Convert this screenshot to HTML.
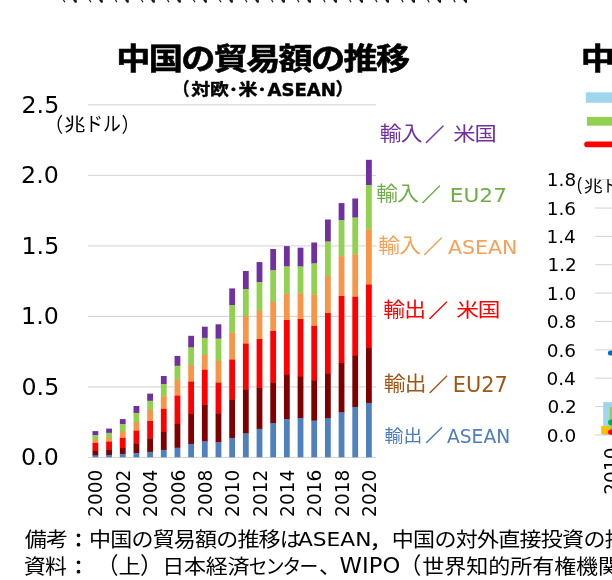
<!DOCTYPE html>
<html lang="ja"><head><meta charset="utf-8"><title>中国の貿易額の推移</title>
<style>html,body{margin:0;padding:0;background:#fff}body{width:612px;height:580px;overflow:hidden;position:relative}svg{position:absolute;left:0;top:0;display:block}text{font-family:'Liberation Sans','Noto Sans CJK JP',sans-serif}.d{font-family:'DejaVu Sans','Liberation Sans',sans-serif}.b{font-weight:bold}</style>
</head><body>
<svg width="612" height="580" viewBox="0 0 612 580">
<rect width="612" height="580" fill="#fff"/>
<g fill="#111" stroke="#111">
<line x1="63.1" y1="-0.6" x2="64.9" y2="2.3" stroke-width="1.15"/>
<rect x="75.2" y="-1" width="1.5" height="3.7" stroke="none"/>
<line x1="73.5" y1="-0.8" x2="75.7" y2="2.2" stroke-width="1.7"/>
<line x1="89.2" y1="-0.6" x2="90.9" y2="2.3" stroke-width="1.15"/>
<rect x="101.2" y="-1" width="1.5" height="3.7" stroke="none"/>
<line x1="99.5" y1="-0.8" x2="101.7" y2="2.2" stroke-width="1.7"/>
<line x1="115.2" y1="-0.6" x2="116.9" y2="2.3" stroke-width="1.15"/>
<rect x="127.2" y="-1" width="1.5" height="3.7" stroke="none"/>
<line x1="125.5" y1="-0.8" x2="127.7" y2="2.2" stroke-width="1.7"/>
<line x1="141.2" y1="-0.6" x2="143.0" y2="2.3" stroke-width="1.15"/>
<rect x="153.3" y="-1" width="1.5" height="3.7" stroke="none"/>
<line x1="151.5" y1="-0.8" x2="153.7" y2="2.2" stroke-width="1.7"/>
<line x1="167.2" y1="-0.6" x2="169.0" y2="2.3" stroke-width="1.15"/>
<rect x="179.3" y="-1" width="1.5" height="3.7" stroke="none"/>
<line x1="177.5" y1="-0.8" x2="179.7" y2="2.2" stroke-width="1.7"/>
<line x1="193.2" y1="-0.6" x2="195.0" y2="2.3" stroke-width="1.15"/>
<rect x="205.3" y="-1" width="1.5" height="3.7" stroke="none"/>
<line x1="203.6" y1="-0.8" x2="205.8" y2="2.2" stroke-width="1.7"/>
<line x1="219.3" y1="-0.6" x2="221.0" y2="2.3" stroke-width="1.15"/>
<rect x="231.3" y="-1" width="1.5" height="3.7" stroke="none"/>
<line x1="229.6" y1="-0.8" x2="231.8" y2="2.2" stroke-width="1.7"/>
<line x1="245.3" y1="-0.6" x2="247.0" y2="2.3" stroke-width="1.15"/>
<rect x="257.3" y="-1" width="1.5" height="3.7" stroke="none"/>
<line x1="255.6" y1="-0.8" x2="257.8" y2="2.2" stroke-width="1.7"/>
<line x1="271.3" y1="-0.6" x2="273.1" y2="2.3" stroke-width="1.15"/>
<rect x="283.4" y="-1" width="1.5" height="3.7" stroke="none"/>
<line x1="281.6" y1="-0.8" x2="283.8" y2="2.2" stroke-width="1.7"/>
<line x1="297.3" y1="-0.6" x2="299.1" y2="2.3" stroke-width="1.15"/>
<rect x="309.4" y="-1" width="1.5" height="3.7" stroke="none"/>
<line x1="307.6" y1="-0.8" x2="309.8" y2="2.2" stroke-width="1.7"/>
<line x1="323.4" y1="-0.6" x2="325.1" y2="2.3" stroke-width="1.15"/>
<rect x="335.4" y="-1" width="1.5" height="3.7" stroke="none"/>
<line x1="333.7" y1="-0.8" x2="335.9" y2="2.2" stroke-width="1.7"/>
<line x1="349.4" y1="-0.6" x2="351.1" y2="2.3" stroke-width="1.15"/>
<rect x="361.4" y="-1" width="1.5" height="3.7" stroke="none"/>
<line x1="359.7" y1="-0.8" x2="361.9" y2="2.2" stroke-width="1.7"/>
<line x1="375.4" y1="-0.6" x2="377.1" y2="2.3" stroke-width="1.15"/>
<rect x="387.4" y="-1" width="1.5" height="3.7" stroke="none"/>
<line x1="385.7" y1="-0.8" x2="387.9" y2="2.2" stroke-width="1.7"/>
<line x1="401.4" y1="-0.6" x2="403.2" y2="2.3" stroke-width="1.15"/>
<rect x="413.5" y="-1" width="1.5" height="3.7" stroke="none"/>
<line x1="411.7" y1="-0.8" x2="413.9" y2="2.2" stroke-width="1.7"/>
<line x1="427.4" y1="-0.6" x2="429.2" y2="2.3" stroke-width="1.15"/>
<rect x="439.5" y="-1" width="1.5" height="3.7" stroke="none"/>
<line x1="437.7" y1="-0.8" x2="439.9" y2="2.2" stroke-width="1.7"/>
<line x1="453.5" y1="-0.6" x2="455.2" y2="2.3" stroke-width="1.15"/>
<rect x="465.5" y="-1" width="1.5" height="3.7" stroke="none"/>
<line x1="463.8" y1="-0.8" x2="466.0" y2="2.2" stroke-width="1.7"/>
</g>
<rect x="88" y="456.90" width="288" height="1.1" fill="#d6d6d6"/>
<rect x="88" y="386.38" width="288" height="1.1" fill="#d6d6d6"/>
<rect x="88" y="315.86" width="288" height="1.1" fill="#d6d6d6"/>
<rect x="88" y="245.34" width="288" height="1.1" fill="#d6d6d6"/>
<rect x="88" y="174.82" width="288" height="1.1" fill="#d6d6d6"/>
<rect x="88" y="104.30" width="288" height="1.1" fill="#d6d6d6"/>
<rect x="92.50" y="431.10" width="5.80" height="4.40" fill="#7030a0"/>
<rect x="92.50" y="435.20" width="5.80" height="4.90" fill="#92d050"/>
<rect x="92.50" y="439.80" width="5.80" height="3.40" fill="#f79646"/>
<rect x="92.50" y="442.90" width="5.80" height="7.80" fill="#ff0000"/>
<rect x="92.50" y="450.40" width="5.80" height="5.40" fill="#7f0000"/>
<rect x="92.50" y="455.50" width="5.80" height="1.80" fill="#4f81bd"/>
<rect x="106.17" y="428.60" width="5.80" height="4.50" fill="#7030a0"/>
<rect x="106.17" y="432.80" width="5.80" height="5.20" fill="#92d050"/>
<rect x="106.17" y="437.70" width="5.80" height="4.30" fill="#f79646"/>
<rect x="106.17" y="441.70" width="5.80" height="8.10" fill="#ff0000"/>
<rect x="106.17" y="449.50" width="5.80" height="5.70" fill="#7f0000"/>
<rect x="106.17" y="454.90" width="5.80" height="2.40" fill="#4f81bd"/>
<rect x="119.85" y="419.10" width="5.80" height="5.30" fill="#7030a0"/>
<rect x="119.85" y="424.10" width="5.80" height="7.90" fill="#92d050"/>
<rect x="119.85" y="431.70" width="5.80" height="6.50" fill="#f79646"/>
<rect x="119.85" y="437.90" width="5.80" height="10.30" fill="#ff0000"/>
<rect x="119.85" y="447.90" width="5.80" height="6.30" fill="#7f0000"/>
<rect x="119.85" y="453.90" width="5.80" height="3.40" fill="#4f81bd"/>
<rect x="133.53" y="406.00" width="5.80" height="7.20" fill="#7030a0"/>
<rect x="133.53" y="412.90" width="5.80" height="9.40" fill="#92d050"/>
<rect x="133.53" y="422.00" width="5.80" height="9.00" fill="#f79646"/>
<rect x="133.53" y="430.70" width="5.80" height="13.10" fill="#ff0000"/>
<rect x="133.53" y="443.50" width="5.80" height="9.80" fill="#7f0000"/>
<rect x="133.53" y="453.00" width="5.80" height="4.30" fill="#4f81bd"/>
<rect x="147.20" y="393.60" width="5.80" height="7.40" fill="#7030a0"/>
<rect x="147.20" y="400.70" width="5.80" height="9.60" fill="#92d050"/>
<rect x="147.20" y="410.00" width="5.80" height="11.30" fill="#f79646"/>
<rect x="147.20" y="421.00" width="5.80" height="17.90" fill="#ff0000"/>
<rect x="147.20" y="438.60" width="5.80" height="13.50" fill="#7f0000"/>
<rect x="147.20" y="451.80" width="5.80" height="5.50" fill="#4f81bd"/>
<rect x="160.88" y="376.00" width="5.80" height="8.40" fill="#7030a0"/>
<rect x="160.88" y="384.10" width="5.80" height="12.50" fill="#92d050"/>
<rect x="160.88" y="396.30" width="5.80" height="12.90" fill="#f79646"/>
<rect x="160.88" y="408.90" width="5.80" height="23.30" fill="#ff0000"/>
<rect x="160.88" y="431.90" width="5.80" height="18.30" fill="#7f0000"/>
<rect x="160.88" y="449.90" width="5.80" height="7.40" fill="#4f81bd"/>
<rect x="174.55" y="355.90" width="5.80" height="10.10" fill="#7030a0"/>
<rect x="174.55" y="365.70" width="5.80" height="14.60" fill="#92d050"/>
<rect x="174.55" y="380.00" width="5.80" height="16.00" fill="#f79646"/>
<rect x="174.55" y="395.70" width="5.80" height="28.50" fill="#ff0000"/>
<rect x="174.55" y="423.90" width="5.80" height="24.10" fill="#7f0000"/>
<rect x="174.55" y="447.70" width="5.80" height="9.60" fill="#4f81bd"/>
<rect x="188.23" y="335.80" width="5.80" height="11.90" fill="#7030a0"/>
<rect x="188.23" y="347.40" width="5.80" height="18.00" fill="#92d050"/>
<rect x="188.23" y="365.10" width="5.80" height="16.80" fill="#f79646"/>
<rect x="188.23" y="381.60" width="5.80" height="32.60" fill="#ff0000"/>
<rect x="188.23" y="413.90" width="5.80" height="30.30" fill="#7f0000"/>
<rect x="188.23" y="443.90" width="5.80" height="13.40" fill="#4f81bd"/>
<rect x="201.90" y="326.70" width="5.80" height="11.40" fill="#7030a0"/>
<rect x="201.90" y="337.80" width="5.80" height="17.40" fill="#92d050"/>
<rect x="201.90" y="354.90" width="5.80" height="15.20" fill="#f79646"/>
<rect x="201.90" y="369.80" width="5.80" height="35.50" fill="#ff0000"/>
<rect x="201.90" y="405.00" width="5.80" height="36.70" fill="#7f0000"/>
<rect x="201.90" y="441.40" width="5.80" height="15.90" fill="#4f81bd"/>
<rect x="215.57" y="324.30" width="5.80" height="14.60" fill="#7030a0"/>
<rect x="215.57" y="338.60" width="5.80" height="22.60" fill="#92d050"/>
<rect x="215.57" y="360.90" width="5.80" height="22.10" fill="#f79646"/>
<rect x="215.57" y="382.70" width="5.80" height="30.90" fill="#ff0000"/>
<rect x="215.57" y="413.30" width="5.80" height="29.30" fill="#7f0000"/>
<rect x="215.57" y="442.30" width="5.80" height="15.00" fill="#4f81bd"/>
<rect x="229.25" y="288.40" width="5.80" height="17.00" fill="#7030a0"/>
<rect x="229.25" y="305.10" width="5.80" height="27.70" fill="#92d050"/>
<rect x="229.25" y="332.50" width="5.80" height="27.40" fill="#f79646"/>
<rect x="229.25" y="359.60" width="5.80" height="40.20" fill="#ff0000"/>
<rect x="229.25" y="399.50" width="5.80" height="38.70" fill="#7f0000"/>
<rect x="229.25" y="437.90" width="5.80" height="19.40" fill="#4f81bd"/>
<rect x="242.93" y="271.00" width="5.80" height="18.30" fill="#7030a0"/>
<rect x="242.93" y="289.00" width="5.80" height="27.30" fill="#92d050"/>
<rect x="242.93" y="316.00" width="5.80" height="27.90" fill="#f79646"/>
<rect x="242.93" y="343.60" width="5.80" height="46.30" fill="#ff0000"/>
<rect x="242.93" y="389.60" width="5.80" height="44.10" fill="#7f0000"/>
<rect x="242.93" y="433.40" width="5.80" height="23.90" fill="#4f81bd"/>
<rect x="256.60" y="262.10" width="5.80" height="20.30" fill="#7030a0"/>
<rect x="256.60" y="282.10" width="5.80" height="28.80" fill="#92d050"/>
<rect x="256.60" y="310.60" width="5.80" height="28.70" fill="#f79646"/>
<rect x="256.60" y="339.00" width="5.80" height="49.30" fill="#ff0000"/>
<rect x="256.60" y="388.00" width="5.80" height="41.10" fill="#7f0000"/>
<rect x="256.60" y="428.80" width="5.80" height="28.50" fill="#4f81bd"/>
<rect x="270.27" y="249.00" width="5.80" height="21.60" fill="#7030a0"/>
<rect x="270.27" y="270.30" width="5.80" height="31.80" fill="#92d050"/>
<rect x="270.27" y="301.80" width="5.80" height="29.50" fill="#f79646"/>
<rect x="270.27" y="331.00" width="5.80" height="51.80" fill="#ff0000"/>
<rect x="270.27" y="382.50" width="5.80" height="40.80" fill="#7f0000"/>
<rect x="270.27" y="423.00" width="5.80" height="34.30" fill="#4f81bd"/>
<rect x="283.95" y="246.10" width="5.80" height="20.60" fill="#7030a0"/>
<rect x="283.95" y="266.40" width="5.80" height="27.50" fill="#92d050"/>
<rect x="283.95" y="293.60" width="5.80" height="26.70" fill="#f79646"/>
<rect x="283.95" y="320.00" width="5.80" height="55.10" fill="#ff0000"/>
<rect x="283.95" y="374.80" width="5.80" height="44.70" fill="#7f0000"/>
<rect x="283.95" y="419.20" width="5.80" height="38.10" fill="#4f81bd"/>
<rect x="297.62" y="247.70" width="5.80" height="19.00" fill="#7030a0"/>
<rect x="297.62" y="266.40" width="5.80" height="27.20" fill="#92d050"/>
<rect x="297.62" y="293.30" width="5.80" height="26.00" fill="#f79646"/>
<rect x="297.62" y="319.00" width="5.80" height="58.00" fill="#ff0000"/>
<rect x="297.62" y="376.70" width="5.80" height="41.60" fill="#7f0000"/>
<rect x="297.62" y="418.00" width="5.80" height="39.30" fill="#4f81bd"/>
<rect x="311.30" y="242.50" width="5.80" height="21.20" fill="#7030a0"/>
<rect x="311.30" y="263.40" width="5.80" height="31.20" fill="#92d050"/>
<rect x="311.30" y="294.30" width="5.80" height="31.90" fill="#f79646"/>
<rect x="311.30" y="325.90" width="5.80" height="55.10" fill="#ff0000"/>
<rect x="311.30" y="380.70" width="5.80" height="40.20" fill="#7f0000"/>
<rect x="311.30" y="420.60" width="5.80" height="36.70" fill="#4f81bd"/>
<rect x="324.98" y="219.50" width="5.80" height="22.30" fill="#7030a0"/>
<rect x="324.98" y="241.50" width="5.80" height="34.70" fill="#92d050"/>
<rect x="324.98" y="275.90" width="5.80" height="37.40" fill="#f79646"/>
<rect x="324.98" y="313.00" width="5.80" height="61.10" fill="#ff0000"/>
<rect x="324.98" y="373.80" width="5.80" height="44.50" fill="#7f0000"/>
<rect x="324.98" y="418.00" width="5.80" height="39.30" fill="#4f81bd"/>
<rect x="338.65" y="203.10" width="5.80" height="17.40" fill="#7030a0"/>
<rect x="338.65" y="220.20" width="5.80" height="36.30" fill="#92d050"/>
<rect x="338.65" y="256.20" width="5.80" height="40.10" fill="#f79646"/>
<rect x="338.65" y="296.00" width="5.80" height="67.30" fill="#ff0000"/>
<rect x="338.65" y="363.00" width="5.80" height="49.70" fill="#7f0000"/>
<rect x="338.65" y="412.40" width="5.80" height="44.90" fill="#4f81bd"/>
<rect x="352.32" y="198.50" width="5.80" height="19.30" fill="#7030a0"/>
<rect x="352.32" y="217.50" width="5.80" height="37.10" fill="#92d050"/>
<rect x="352.32" y="254.30" width="5.80" height="42.80" fill="#f79646"/>
<rect x="352.32" y="296.80" width="5.80" height="59.30" fill="#ff0000"/>
<rect x="352.32" y="355.80" width="5.80" height="51.40" fill="#7f0000"/>
<rect x="352.32" y="406.90" width="5.80" height="50.40" fill="#4f81bd"/>
<rect x="366.00" y="159.80" width="5.80" height="25.60" fill="#7030a0"/>
<rect x="366.00" y="185.10" width="5.80" height="44.50" fill="#92d050"/>
<rect x="366.00" y="229.30" width="5.80" height="55.50" fill="#f79646"/>
<rect x="366.00" y="284.50" width="5.80" height="63.70" fill="#ff0000"/>
<rect x="366.00" y="347.90" width="5.80" height="55.30" fill="#7f0000"/>
<rect x="366.00" y="402.90" width="5.80" height="54.40" fill="#4f81bd"/>
<text class="b" transform="translate(116.37 69.30) scale(1.1500 1)" font-size="29.70" letter-spacing="-1.483" stroke="#000" stroke-width="0.60" stroke-linejoin="round">中国の貿易額の推移</text>
<text class="b" transform="translate(580.77 69.30) scale(1.1500 1)" font-size="29.70" stroke="#000" stroke-width="0.60" stroke-linejoin="round">中</text>
<text class="b" transform="translate(173.76 95.35) scale(0.8835 1)" font-size="17.73" stroke="#000" stroke-width="0.45" stroke-linejoin="round">（</text>
<text class="b" transform="translate(191.31 94.90) scale(1.1600 1)" font-size="16.30" letter-spacing="-0.222" stroke="#000" stroke-width="0.45" stroke-linejoin="round">対欧</text>
<text class="b" transform="translate(228.77 94.90) scale(1.1600 1)" font-size="16.30" stroke="#000" stroke-width="0.45" stroke-linejoin="round">･</text>
<text class="b" transform="translate(238.42 94.90) scale(1.1600 1)" font-size="16.30" stroke="#000" stroke-width="0.45" stroke-linejoin="round">米</text>
<text class="b" transform="translate(257.37 94.90) scale(1.1600 1)" font-size="16.30" stroke="#000" stroke-width="0.45" stroke-linejoin="round">･</text>
<text class="d b" transform="translate(267.40 95.73) scale(1.0329 1)" font-size="17.50" stroke="#000" stroke-width="0.45" stroke-linejoin="round">ASEAN</text>
<text class="b" transform="translate(335.82 95.38) scale(0.9757 1)" font-size="17.42" stroke="#000" stroke-width="0.45" stroke-linejoin="round">）</text>
<text class="d" transform="translate(21.06 465.35) scale(1.0400 1)" font-size="22.80">0.0</text>
<text class="d" transform="translate(21.53 394.83) scale(1.0400 1)" font-size="22.80">0.5</text>
<text class="d" transform="translate(21.06 324.31) scale(1.0400 1)" font-size="22.80">1.0</text>
<text class="d" transform="translate(21.53 253.79) scale(1.0400 1)" font-size="22.80">1.5</text>
<text class="d" transform="translate(21.06 183.27) scale(1.0400 1)" font-size="22.80">2.0</text>
<text class="d" transform="translate(21.53 112.75) scale(1.0400 1)" font-size="22.80">2.5</text>
<text transform="translate(45.08 131.68) scale(0.8981 1)" font-size="20.21">（</text>
<text transform="translate(64.15 130.79) scale(1.1713 1)" font-size="18.09">兆</text>
<text transform="translate(85.13 131.31) scale(0.8977 1)" font-size="19.88">ドル</text>
<text transform="translate(121.47 131.68) scale(0.8981 1)" font-size="20.21">）</text>
<text class="d" transform="translate(102.45 516.90) scale(1.0300 1) rotate(-90)" font-size="18.55">2000</text>
<text class="d" transform="translate(129.80 516.90) scale(1.0300 1) rotate(-90)" font-size="18.55">2002</text>
<text class="d" transform="translate(157.15 516.90) scale(1.0300 1) rotate(-90)" font-size="18.55">2004</text>
<text class="d" transform="translate(184.50 516.90) scale(1.0300 1) rotate(-90)" font-size="18.55">2006</text>
<text class="d" transform="translate(211.85 516.90) scale(1.0300 1) rotate(-90)" font-size="18.55">2008</text>
<text class="d" transform="translate(239.20 516.90) scale(1.0300 1) rotate(-90)" font-size="18.55">2010</text>
<text class="d" transform="translate(266.55 516.90) scale(1.0300 1) rotate(-90)" font-size="18.55">2012</text>
<text class="d" transform="translate(293.90 516.90) scale(1.0300 1) rotate(-90)" font-size="18.55">2014</text>
<text class="d" transform="translate(321.25 516.90) scale(1.0300 1) rotate(-90)" font-size="18.55">2016</text>
<text class="d" transform="translate(348.60 516.90) scale(1.0300 1) rotate(-90)" font-size="18.55">2018</text>
<text class="d" transform="translate(375.95 516.90) scale(1.0300 1) rotate(-90)" font-size="18.55">2020</text>
<text class="d" transform="translate(618.35 494.70) scale(1.0300 1) rotate(-90)" font-size="18.55">2010</text>
<text transform="translate(379.85 140.76) scale(1.0650 1)" font-size="20.40" letter-spacing="-0.682" fill="#7030a0">輸入</text>
<text transform="translate(425.13 140.61) scale(1.0114 1)" font-size="18.72" fill="#7030a0" stroke="#7030a0" stroke-width="0.50" stroke-linejoin="round">／</text>
<text transform="translate(453.23 140.84) scale(1.1384 1)" font-size="19.57" letter-spacing="-0.979" fill="#7030a0">米国</text>
<text transform="translate(376.35 200.86) scale(1.0650 1)" font-size="20.40" letter-spacing="-0.682" fill="#70ad47">輸入</text>
<text transform="translate(421.63 200.71) scale(1.0114 1)" font-size="18.72" fill="#70ad47" stroke="#70ad47" stroke-width="0.50" stroke-linejoin="round">／</text>
<text class="d" transform="translate(449.75 201.60) scale(1.0709 1)" font-size="20.26" fill="#70ad47">EU27</text>
<text transform="translate(378.15 253.46) scale(1.0650 1)" font-size="20.40" letter-spacing="-0.682" fill="#f8a055">輸入</text>
<text transform="translate(423.43 253.31) scale(1.0114 1)" font-size="18.72" fill="#f8a055" stroke="#f8a055" stroke-width="0.50" stroke-linejoin="round">／</text>
<text class="d" transform="translate(447.90 253.60) scale(1.0275 1)" font-size="20.00" fill="#f8a055">ASEAN</text>
<text transform="translate(383.35 317.46) scale(1.0650 1)" font-size="20.40" letter-spacing="-0.682" fill="#ff0000">輸出</text>
<text transform="translate(428.63 317.31) scale(1.0114 1)" font-size="18.72" fill="#ff0000" stroke="#ff0000" stroke-width="0.50" stroke-linejoin="round">／</text>
<text transform="translate(456.22 317.22) scale(1.1481 1)" font-size="19.79" letter-spacing="-0.989" fill="#ff0000">米国</text>
<text transform="translate(383.65 390.96) scale(1.0650 1)" font-size="20.40" letter-spacing="-0.682" fill="#a05512">輸出</text>
<text transform="translate(428.93 390.81) scale(1.0114 1)" font-size="18.72" fill="#a05512" stroke="#a05512" stroke-width="0.50" stroke-linejoin="round">／</text>
<text class="d" transform="translate(452.72 392.09) scale(1.0158 1)" font-size="20.53" fill="#a05512">EU27</text>
<text transform="translate(384.44 442.13) scale(1.0800 1)" font-size="17.40" letter-spacing="0.193" fill="#4c7cc0">輸出</text>
<text transform="translate(425.38 441.90) scale(1.0114 1)" font-size="16.94" fill="#4c7cc0" stroke="#4c7cc0" stroke-width="0.50" stroke-linejoin="round">／</text>
<text class="d" transform="translate(446.90 443.21) scale(1.0021 1)" font-size="18.68" fill="#4c7cc0">ASEAN</text>
<rect x="585.8" y="92.3" width="27" height="10.5" fill="#9fd6ee"/>
<rect x="586.9" y="116.9" width="27" height="8.8" fill="#92d050"/>
<line x1="587" y1="144.4" x2="615" y2="144.4" stroke="#ff0000" stroke-width="5.6" stroke-linecap="round"/>
<rect x="595.1" y="434.35" width="18" height="1.1" fill="#d6d6d6"/>
<rect x="595.1" y="405.99" width="18" height="1.1" fill="#d6d6d6"/>
<rect x="595.1" y="377.63" width="18" height="1.1" fill="#d6d6d6"/>
<rect x="595.1" y="349.27" width="18" height="1.1" fill="#d6d6d6"/>
<rect x="595.1" y="320.91" width="18" height="1.1" fill="#d6d6d6"/>
<rect x="595.1" y="292.55" width="18" height="1.1" fill="#d6d6d6"/>
<rect x="595.1" y="264.19" width="18" height="1.1" fill="#d6d6d6"/>
<rect x="595.1" y="235.83" width="18" height="1.1" fill="#d6d6d6"/>
<rect x="595.1" y="207.47" width="18" height="1.1" fill="#d6d6d6"/>
<rect x="595.1" y="179.11" width="18" height="1.1" fill="#d6d6d6"/>
<text class="d" transform="translate(546.83 441.60) scale(1.0500 1)" font-size="17.60">0.0</text>
<text class="d" transform="translate(547.39 413.24) scale(1.0500 1)" font-size="17.60">0.2</text>
<text class="d" transform="translate(546.47 384.88) scale(1.0500 1)" font-size="17.60">0.4</text>
<text class="d" transform="translate(546.65 356.52) scale(1.0500 1)" font-size="17.60">0.6</text>
<text class="d" transform="translate(546.83 328.16) scale(1.0500 1)" font-size="17.60">0.8</text>
<text class="d" transform="translate(546.83 299.80) scale(1.0500 1)" font-size="17.60">1.0</text>
<text class="d" transform="translate(547.39 271.44) scale(1.0500 1)" font-size="17.60">1.2</text>
<text class="d" transform="translate(546.47 243.08) scale(1.0500 1)" font-size="17.60">1.4</text>
<text class="d" transform="translate(546.65 214.72) scale(1.0500 1)" font-size="17.60">1.6</text>
<text class="d" transform="translate(546.83 186.36) scale(1.0500 1)" font-size="17.60">1.8</text>
<text transform="translate(577.01 190.42) scale(0.8240 1)" font-size="17.98">(</text>
<text transform="translate(583.84 191.65) scale(1.2254 1)" font-size="15.53">兆</text>
<text transform="translate(602.45 191.97) scale(0.9676 1)" font-size="16.59">ドル</text>
<text transform="translate(636.00 190.42) scale(0.8343 1)" font-size="17.98">)</text>
<rect x="603.2" y="402.1" width="10" height="33" fill="#9fd6ee"/>
<rect x="609.8" y="406.9" width="4" height="22.4" fill="#92d050"/>
<rect x="601.2" y="426" width="8.5" height="8.3" fill="#ffc000"/>
<circle cx="610.9" cy="422.4" r="2.8" fill="#00b050"/>
<circle cx="610.7" cy="432.1" r="2.7" fill="#ff0000"/>
<line x1="610.4" y1="353" x2="615" y2="353" stroke="#0070c0" stroke-width="5" stroke-linecap="round"/>
<text transform="translate(24.68 546.90) scale(1.0800 1)" font-size="20.40" letter-spacing="-0.678">備考</text>
<text transform="translate(69.60 546.90)" font-size="18.00" stroke="#000" stroke-width="1.00" stroke-linejoin="round">：</text>
<text transform="translate(89.12 546.90) scale(1.0800 1)" font-size="20.40" letter-spacing="-0.770">中国の貿易額の推移は</text>
<text class="d" transform="translate(298.00 546.10) scale(1.0782 1)" font-size="20.13">ASEAN</text>
<text transform="translate(369.74 547.93) scale(1.1647 1)" font-size="18.89" stroke="#000" stroke-width="0.30" stroke-linejoin="round">，</text>
<text transform="translate(391.82 546.90) scale(1.0800 1)" font-size="20.40" letter-spacing="-0.678">中国の対外直接投資の推移</text>
<text transform="translate(23.72 573.70) scale(1.0800 1)" font-size="20.40" letter-spacing="-0.678">資料</text>
<text transform="translate(69.60 574.20)" font-size="18.00" stroke="#000" stroke-width="1.00" stroke-linejoin="round">：</text>
<text transform="translate(97.08 574.00) scale(0.9331 1)" font-size="23.02">（</text>
<text transform="translate(118.60 573.70) scale(1.0800 1)" font-size="20.40">上</text>
<text transform="translate(139.88 574.00) scale(0.9975 1)" font-size="23.02">）</text>
<text transform="translate(162.25 573.70) scale(1.0800 1)" font-size="20.40" letter-spacing="-0.215">日本経済</text>
<text transform="translate(248.77 573.70) scale(0.9200 1)" font-size="20.40" letter-spacing="-2.030">センター</text>
<text transform="translate(318.90 573.70) scale(1.0800 1)" font-size="20.40">、</text>
<text class="d" transform="translate(339.62 573.39) scale(1.0911 1)" font-size="20.79">WIPO</text>
<text transform="translate(399.52 574.00) scale(0.9492 1)" font-size="23.02">（</text>
<text transform="translate(422.22 573.70) scale(1.0800 1)" font-size="20.40" letter-spacing="-0.030">世界知的所有権機関</text>
</svg>
</body></html>
